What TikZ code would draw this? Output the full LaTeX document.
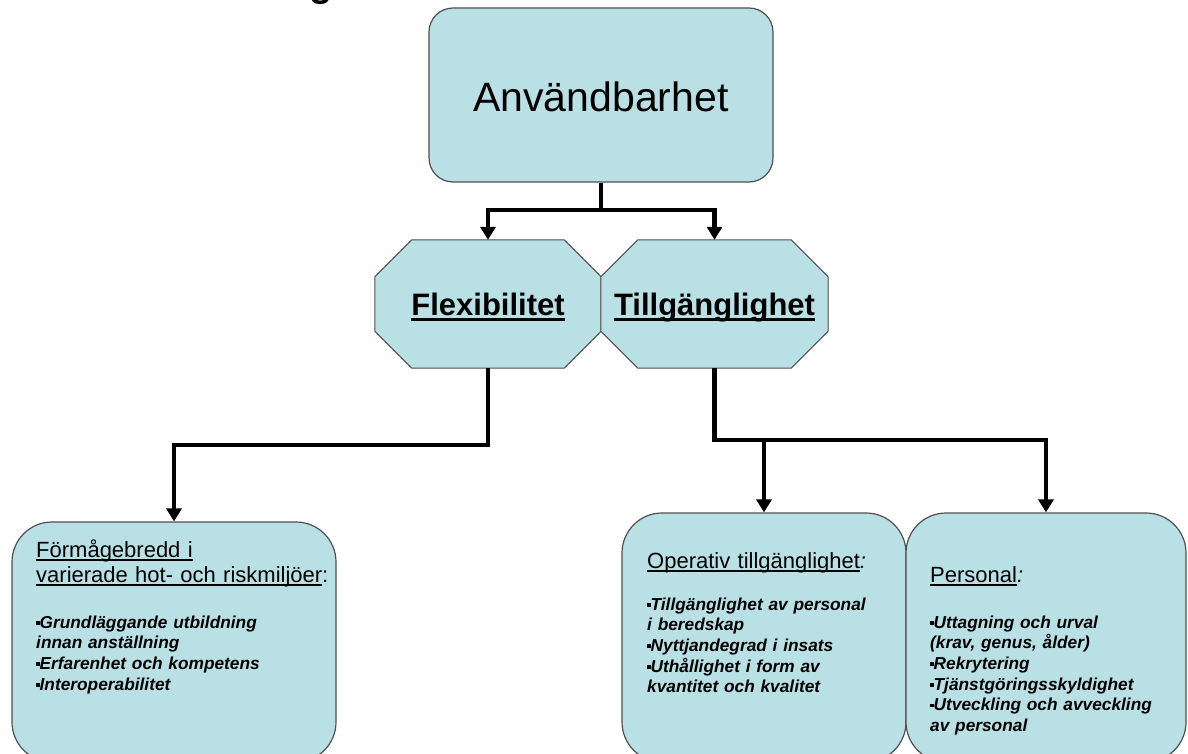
\documentclass[tikz,border=0pt]{standalone}
\usepackage{fontspec}
\setmainfont{Liberation Sans}
\usetikzlibrary{arrows.meta,calc}
\pgfdeclarelayer{bg}
\pgfsetlayers{bg,main}
\definecolor{boxfill}{RGB}{185,224,228}
\definecolor{boxline}{RGB}{80,80,80}
\newcommand\ulx[1]{\leavevmode\setbox0\hbox{#1}\rlap{\rule[-0.18em]{\wd0}{0.07em}}\box0}
\newcommand\sqb{\raisebox{0.2em}{\rule{0.2em}{0.2em}}}
\tikzset{
  mainbox/.style={draw=boxline, line width=1.2pt, fill=boxfill, rounded corners=24pt,
    font=\fontsize{41}{48}\selectfont, text height=34pt, text depth=0pt},
  octlabel/.style={draw=none, font=\bfseries\fontsize{31}{36}\selectfont,
    text height=22pt, text depth=0pt},
  octo/.style={draw=boxline, line width=1pt, fill=boxfill},
  lowbox/.style={draw=boxline, line width=1.2pt, fill=boxfill, rounded corners=40pt},
  ttl/.style={anchor=base west, inner sep=0pt, align=left,
    font=\fontsize{22}{25}\selectfont},
  bul/.style={anchor=base west, inner sep=0pt, align=left,
    font=\bfseries\itshape\fontsize{17.3}{20.7}\selectfont},
  link/.style={line width=4.6pt, black, line join=miter},
  arr/.style={link, -{Triangle[width=15pt,length=13pt]}},
}
\begin{document}
\begin{tikzpicture}[x=1pt,y=-1pt]
\useasboundingbox (0,0) rectangle (1188,754);
\begin{pgfonlayer}{bg}
\fill[white] (0,0) rectangle (1188,754);
\end{pgfonlayer}
\begin{scope}
\clip (0,0) rectangle (1188,754);
% cut-off title fragment
\node[anchor=base, inner sep=0pt, font=\bfseries\fontsize{38}{44}\selectfont] (ttlfrag) at (321,-3) {g};

% top box
\node[mainbox, minimum width=344pt, minimum height=174pt] (main) at (601,95) {Användbarhet};

% octagons
\node[octlabel, minimum width=226pt, minimum height=128pt] (flex) at (488,304) {\ulx{Flexibilitet}};
\node[octlabel, minimum width=227pt, minimum height=128pt] (till) at (714.5,304) {\ulx{Tillgänglighet}};
\begin{pgfonlayer}{bg}
\foreach \n in {flex,till}{
  \draw[octo] ([xshift=37pt]\n.north west) -- ([xshift=-37pt]\n.north east)
    -- ([yshift=-37pt]\n.north east) -- ([yshift=37pt]\n.south east)
    -- ([xshift=-37pt]\n.south east) -- ([xshift=37pt]\n.south west)
    -- ([yshift=37pt]\n.south west) -- ([yshift=-37pt]\n.north west) -- cycle;
}
\end{pgfonlayer}

% lower boxes
\node[lowbox, minimum width=324pt, minimum height=240pt] (form) at (174,642) {};
\node[lowbox, minimum width=284pt, minimum height=249pt] (oper) at (764,637.5) {};
\node[lowbox, minimum width=280pt, minimum height=249pt] (pers) at (1046,637.5) {};

% texts in lower boxes
\node[ttl, text width=305pt] (formT) at (36,557) {\ulx{Förmågebredd i}\\\ulx{varierade hot- och riskmiljöer}:};
\node[bul, text width=290pt] (formB) at (36,628) {\sqb Grundläggande utbildning\\innan anställning\\\sqb Erfarenhet och kompetens\\\sqb Interoperabilitet};

\node[ttl, text width=255pt] (operT) at (647,568) {\ulx{Operativ tillgänglighet}\textit{:}};
\node[bul, text width=255pt] (operB) at (647,610) {\sqb Tillgänglighet av personal\\i beredskap\\\sqb Nyttjandegrad i insats\\\sqb Uthållighet i form av\\kvantitet och kvalitet};

\node[ttl, text width=250pt] (persT) at (930,582) {\ulx{Personal}\textit{:}};
\node[bul, text width=250pt] (persB) at (930,628) {\sqb Uttagning och urval\\(krav, genus, ålder)\\\sqb Rekrytering\\\sqb Tjänstgöringsskyldighet\\\sqb Utveckling och avveckling\\av personal};

% connectors
\coordinate (s1) at (601,210);
\draw[link] (main.south) -- (s1);
\draw[arr] (s1) -| (flex.north);
\draw[arr] (s1) -| (till.north);

\coordinate (f1) at (488,445);
\draw[arr] (flex.south) -- (f1) -| (form.north);

\coordinate (t1) at (714.5,440);
\draw[arr] (till.south) -- (t1) -| (pers.north);
\draw[arr] (oper.north |- t1) -- (oper.north);
\end{scope}
\end{tikzpicture}
\end{document}
